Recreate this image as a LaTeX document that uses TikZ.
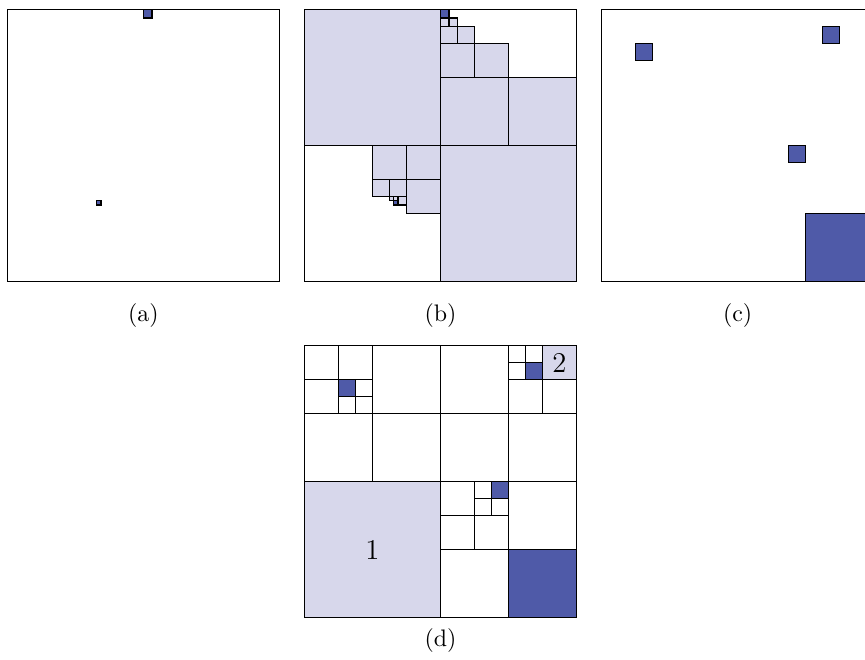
\documentclass[tikz,border=0pt]{standalone}
\usepackage{tikz}
\definecolor{prune}{HTML}{D7D7EB}
\definecolor{hit}{HTML}{4F5AA8}
% one quadtree cell: lower-left corner and side
\newcommand{\qc}[4][cell]{\draw[#1] (#2,#3) rectangle ++(#4,#4);}

\begin{document}
\begin{tikzpicture}[
  x=4cm, y=4cm,
  frame/.style={draw, line width=0.6pt},
  cell/.style={draw, line width=0.6pt},
  far/.style={cell, fill=prune},
  pt/.style={cell, fill=hit},
  capt/.style={font=\normalsize},
  num/.style={font=\large},
]
\useasboundingbox (-0.0268,-1.392) rectangle (3.1533,1.0342);

% ============================================================ (a) the two sets
\begin{scope}[shift={(0,0)}]
  \draw[frame] (0,0) rectangle (1,1);
  \qc[pt]{0.5}{0.96875}{1/32}
  \qc[pt]{0.328125}{0.28125}{1/64}
\end{scope}
\node[capt] (capa) at (0.5,-0.1276) {(a)};

% ============================================================ (b) pruned cells
\begin{scope}[shift={(1.0925,0)}]
  \draw[frame] (0,0) rectangle (1,1);
  % top-right branch
  \qc[far]{0}{0.5}{0.5}
  \qc[far]{0.5}{0}{0.5}
  \qc[far]{0.5}{0.5}{0.25}
  \qc[far]{0.75}{0.5}{0.25}
  \qc[far]{0.5}{0.75}{0.125}
  \qc[far]{0.625}{0.75}{0.125}
  \qc[far]{0.5}{0.875}{1/16}
  \qc[far]{0.5625}{0.875}{1/16}
  \qc[far]{0.5}{0.9375}{1/32}
  \qc[far]{0.53125}{0.9375}{1/32}
  \qc[pt]{0.5}{0.96875}{1/32}
  % lower-left branch
  \qc[far]{0.25}{0.375}{0.125}
  \qc[far]{0.375}{0.375}{0.125}
  \qc[far]{0.375}{0.25}{0.125}
  \qc[far]{0.25}{0.3125}{1/16}
  \qc[far]{0.3125}{0.3125}{1/16}
  \qc[far]{0.34375}{0.28125}{1/32}
  \qc[far]{0.3125}{0.296875}{1/64}
  \qc[far]{0.328125}{0.296875}{1/64}
  \qc[pt]{0.328125}{0.28125}{1/64}
\end{scope}
\node[capt] (capb) at (1.5925,-0.1276) {(b)};

% ============================================================ (c) the points
\begin{scope}[shift={(2.185,0)}]
  \draw[frame] (0,0) rectangle (1,1);
  \qc[pt]{0.125}{0.8125}{1/16}
  \qc[pt]{0.8125}{0.875}{1/16}
  \qc[pt]{0.6875}{0.4375}{1/16}
  \qc[pt]{0.75}{0}{0.25}
\end{scope}
\node[capt] (capc) at (2.685,-0.1276) {(c)};

% ============================================================ (d) decomposition
\begin{scope}[shift={(1.0925,-1.2368)}]
  \draw[frame] (0,0) rectangle (1,1);
  % quadrant 1: one cell
  \qc[far]{0}{0}{0.5}
  \node[num] (one) at (0.25,0.25) {1};
  % top-left quadrant
  \qc{0}{0.5}{0.25}
  \qc{0.25}{0.5}{0.25}
  \qc{0.25}{0.75}{0.25}
  \qc{0}{0.875}{0.125}
  \qc{0.125}{0.875}{0.125}
  \qc{0}{0.75}{0.125}
  \qc{0.1875}{0.8125}{1/16}
  \qc{0.125}{0.75}{1/16}
  \qc{0.1875}{0.75}{1/16}
  \qc[pt]{0.125}{0.8125}{1/16}
  % top-right quadrant
  \qc{0.5}{0.5}{0.25}
  \qc{0.75}{0.5}{0.25}
  \qc{0.5}{0.75}{0.25}
  \qc{0.75}{0.75}{0.125}
  \qc{0.875}{0.75}{0.125}
  \qc[far]{0.875}{0.875}{0.125}
  \node[num] (two) at (0.9375,0.9375) {2};
  \qc{0.75}{0.9375}{1/16}
  \qc{0.8125}{0.9375}{1/16}
  \qc{0.75}{0.875}{1/16}
  \qc[pt]{0.8125}{0.875}{1/16}
  % bottom-right quadrant
  \qc{0.5}{0}{0.25}
  \qc{0.75}{0.25}{0.25}
  \qc[pt]{0.75}{0}{0.25}
  \qc{0.5}{0.25}{0.125}
  \qc{0.625}{0.25}{0.125}
  \qc{0.5}{0.375}{0.125}
  \qc{0.625}{0.4375}{1/16}
  \qc{0.625}{0.375}{1/16}
  \qc{0.6875}{0.375}{1/16}
  \qc[pt]{0.6875}{0.4375}{1/16}
\end{scope}
\node[capt] (capd) at (1.5925,-1.3224) {(d)};

\end{tikzpicture}
\end{document}
